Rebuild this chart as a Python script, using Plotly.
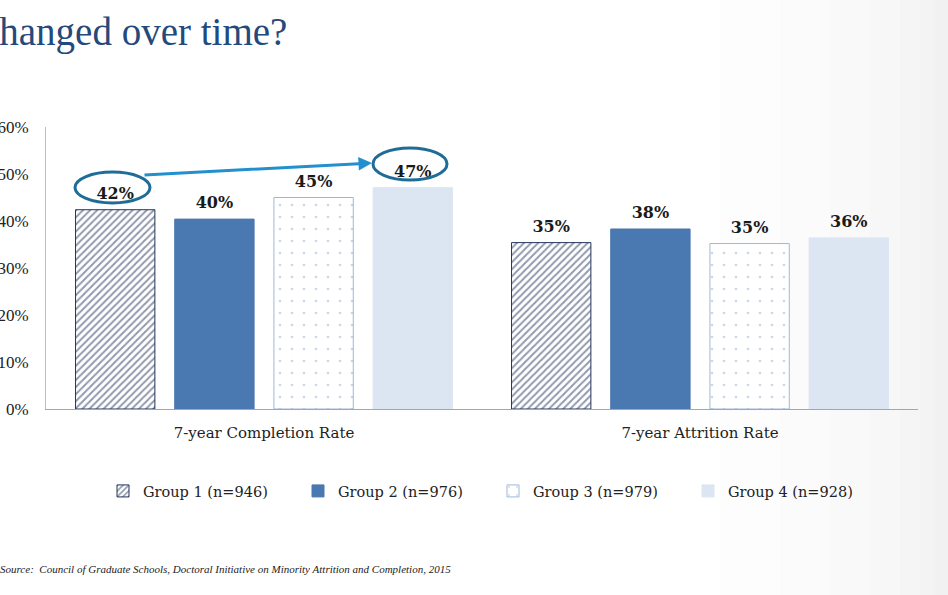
import plotly.graph_objects as go

categories = ["7-year Completion Rate", "7-year Attrition Rate"]
group_names = ["Group 1 (n=946)", "Group 2 (n=976)", "Group 3 (n=979)", "Group 4 (n=928)"]
group1 = [42.4, 35.4]
group2 = [40.4, 38.3]
group3 = [45.0, 35.2]
group4 = [47.1, 36.4]
y_ticks = [0, 10, 20, 30, 40, 50, 60]
y_tick_labels = ["0%", "10%", "20%", "30%", "40%", "50%", "60%"]

W, H = 948, 595
L, R, T, B = 46, 30, 127, 186
PW, PH = W - L - R, H - T - B


def px(x):
    return (x - L) / PW


def py(y):
    return (H - B - y) / PH


serif = "DejaVu Serif"

fig = go.Figure()
styles = [
    dict(color="white", line=dict(color="#22345A", width=1),
         pattern=dict(shape="/", fgcolor="#22345A", bgcolor="white", size=5, solidity=0.4)),
    dict(color="#4A78B0", line=dict(color="#4A78B0", width=1)),
    dict(color="white", line=dict(color="#9DB8DB", width=1),
         pattern=dict(shape=".", fgcolor="#9AAFCC", bgcolor="white", size=12, solidity=0.04)),
    dict(color="#DCE6F2", line=dict(color="#DCE6F2", width=1)),
]
series = [group1, group2, group3, group4]
for i, (name, vals, st) in enumerate(zip(group_names, series, styles)):
    fig.add_trace(go.Bar(
        x=categories, y=vals, name=name, marker=st, offsetgroup=str(i), cliponaxis=False,
    ))
for i, vals in enumerate(series):
    fig.add_trace(go.Scatter(
        x=categories, y=vals, mode="markers+text", offsetgroup=str(i), showlegend=False,
        marker=dict(size=9, opacity=0), text=[f"{v:.0f}%" for v in vals],
        textposition="top center", cliponaxis=False, hoverinfo="skip",
        textfont=dict(family=serif, size=16, color="#1a1a1a", weight="bold"),
    ))

shapes = []
# slide background gradient on the right
for start in [720, 780, 830, 870, 900, 920, 935]:
    shapes.append(dict(type="rect", xref="paper", yref="paper", x0=px(start), x1=px(W + 5),
                       y0=py(H + 5), y1=py(-5), fillcolor="#000000", opacity=0.009,
                       line=dict(width=0), layer="below"))
# highlight ellipses
for cx, cy, w, h in [(112.5, 187.5, 75, 31), (410, 164, 74, 32)]:
    shapes.append(dict(type="circle", xref="paper", yref="paper",
                       x0=px(cx - w / 2), x1=px(cx + w / 2), y0=py(cy + h / 2), y1=py(cy - h / 2),
                       line=dict(color="#1F6C99", width=3)))

annotations = [
    dict(x=px(372), y=py(163), xref="paper", yref="paper", ax=143 - 372, ay=175 - 163,
         text="", showarrow=True, arrowhead=2, arrowsize=0.9, arrowwidth=3, arrowcolor="#2290CF"),
    dict(x=px(289), y=py(32), xref="paper", yref="paper", xanchor="right", yanchor="middle",
         text="changed over time?", showarrow=False,
         font=dict(family="Liberation Serif", size=39, color="#24497C")),
    dict(x=px(-2), y=py(569), xref="paper", yref="paper", xanchor="left", yanchor="middle",
         text="<i>Source:  Council of Graduate Schools, Doctoral Initiative on Minority Attrition and Completion, 2015</i>",
         showarrow=False, font=dict(family="Liberation Serif", size=11, color="#222222")),
]

fig.update_layout(
    width=W, height=H, margin=dict(l=L, r=R, t=T, b=B, autoexpand=False),
    paper_bgcolor="white", plot_bgcolor="rgba(0,0,0,0)",
    barmode="group", bargap=0.09, bargroupgap=0.2,
    scattermode="group", scattergap=0.09,
    shapes=shapes, annotations=annotations,
    legend=dict(orientation="h", x=px(103), xanchor="left", y=py(491), yanchor="middle",
                entrywidth=150, entrywidthmode="pixels",
                font=dict(family=serif, size=14.5, color="#222222"), bgcolor="rgba(0,0,0,0)"),
    xaxis=dict(showline=True, linecolor="#A6A6A6", linewidth=1, ticks="", showgrid=False,
               tickfont=dict(family=serif, size=15, color="#222222"), ticklabelstandoff=10,
               automargin=False),
    yaxis=dict(range=[0, 60], tickvals=y_ticks, ticktext=y_tick_labels, showline=True,
               linecolor="#BFBFBF", linewidth=1, ticks="", showgrid=False, zeroline=False,
               tickfont=dict(family="Liberation Serif", size=17, color="#222222"),
               ticklabelstandoff=13, automargin=False),
    showlegend=True,
)

fig.write_html("out.html")
